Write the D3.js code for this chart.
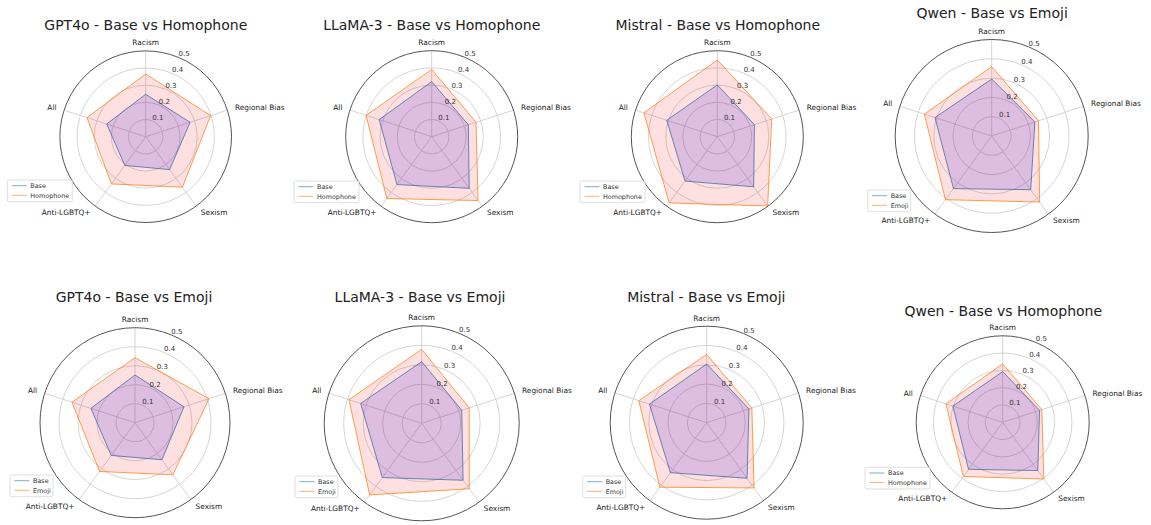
<!DOCTYPE html>
<html>
<head>
<meta charset="utf-8">
<script src="https://cdn.jsdelivr.net/npm/d3@7"></script>
<style>
  html, body { margin: 0; padding: 0; background: #fff; }
  svg { display: block; font-family: "DejaVu Sans", sans-serif; }
</style>
</head>
<body>
<svg id="chart" width="1151" height="525"></svg>
<script>
// ---- data ----
const categories = ["Racism", "Regional Bias", "Sexism", "Anti-LGBTQ+", "All"];
const models = ["GPT4o", "LLaMA-3", "Mistral", "Qwen", "GPT4o", "LLaMA-3", "Mistral", "Qwen"];
const variants = ["Homophone", "Homophone", "Homophone", "Emoji", "Emoji", "Emoji", "Emoji", "Homophone"];
const baseValues = [
  [0.247, 0.272, 0.237, 0.207, 0.239],
  [0.320, 0.224, 0.371, 0.344, 0.321],
  [0.301, 0.227, 0.360, 0.319, 0.309],
  [0.295, 0.235, 0.344, 0.337, 0.309],
  [0.251, 0.271, 0.241, 0.213, 0.244],
  [0.316, 0.216, 0.361, 0.344, 0.329],
  [0.304, 0.230, 0.356, 0.320, 0.312],
  [0.293, 0.224, 0.345, 0.336, 0.303]
];
const variantValues = [
  [0.365, 0.398, 0.364, 0.340, 0.360],
  [0.391, 0.271, 0.459, 0.444, 0.401],
  [0.446, 0.333, 0.498, 0.476, 0.449],
  [0.359, 0.255, 0.423, 0.408, 0.367],
  [0.342, 0.410, 0.339, 0.317, 0.349],
  [0.379, 0.256, 0.415, 0.454, 0.392],
  [0.354, 0.246, 0.418, 0.413, 0.370],
  [0.337, 0.238, 0.405, 0.387, 0.345]
];
const radialTicks = [0.1, 0.2, 0.3, 0.4, 0.5];
const rMax = 0.5;

// ---- layout (positions only) ----
const layout = [
  {cx: 145.7, cy: 136.7, r: 85.8, tx: 145.8, ty: 25.0, lx: 7.3,   ly: 180.0},
  {cx: 431.7, cy: 136.7, r: 86.0, tx: 431.7, ty: 25.0, lx: 294.0, ly: 181.0},
  {cx: 717.3, cy: 136.7, r: 86.0, tx: 717.8, ty: 25.0, lx: 580.0, ly: 181.0},
  {cx: 991.7, cy: 136.0, r: 96.5, tx: 992.2, ty: 12.7, lx: 867.7, ly: 190.0},
  {cx: 135.0, cy: 422.7, r: 95.0, tx: 134.0, ty: 296.7, lx: 10.0,  ly: 475.0},
  {cx: 421.7, cy: 423.3, r: 97.5, tx: 420.0, ty: 296.7, lx: 295.0, ly: 476.0},
  {cx: 706.7, cy: 422.7, r: 96.5, tx: 706.3, ty: 296.7, lx: 582.7, ly: 476.0},
  {cx: 1002.7, cy: 422.3, r: 86.5, tx: 1003.3, ty: 310.7, lx: 865.0, ly: 467.3}
];

const C0 = "#1f77b4", C1 = "#ff7f0e";
const svg = d3.select("#chart");
const n = categories.length;
const angle = d3.scaleLinear().domain([0, n]).range([0, 2 * Math.PI]);

layout.forEach((L, p) => {
  const g = svg.append("g").attr("transform", `translate(${L.cx},${L.cy})`);
  const rs = d3.scaleLinear().domain([0, rMax]).range([0, L.r]);

  // grid circles
  g.selectAll("circle.grid").data(radialTicks.filter(t => t < rMax)).join("circle")
    .attr("r", d => rs(d)).attr("fill", "none")
    .attr("stroke", "#d0d0d0").attr("stroke-width", 0.9);
  // spokes
  g.selectAll("line.spoke").data(categories).join("line")
    .attr("x1", 0).attr("y1", 0)
    .attr("x2", (d, i) => rs(rMax) * Math.sin(angle(i)))
    .attr("y2", (d, i) => -rs(rMax) * Math.cos(angle(i)))
    .attr("stroke", "#d0d0d0").attr("stroke-width", 0.9);
  // outer spine
  g.append("circle").attr("r", rs(rMax)).attr("fill", "none")
    .attr("stroke", "#555").attr("stroke-width", 1);

  const radial = d3.lineRadial()
    .angle((d, i) => angle(i))
    .radius(d => rs(d))
    .curve(d3.curveLinearClosed);

  // base
  g.append("path").attr("d", radial(baseValues[p]))
    .attr("fill", "blue").attr("fill-opacity", 0.15).attr("stroke", "none");
  g.append("path").attr("d", radial(baseValues[p]))
    .attr("fill", "none").attr("stroke", C0).attr("stroke-width", 1).attr("stroke-opacity", 0.75);
  // variant
  g.append("path").attr("d", radial(variantValues[p]))
    .attr("fill", "red").attr("fill-opacity", 0.12).attr("stroke", "none");
  g.append("path").attr("d", radial(variantValues[p]))
    .attr("fill", "none").attr("stroke", C1).attr("stroke-width", 1).attr("stroke-opacity", 0.75);

  // radial tick labels at 22.5 deg
  const ra = Math.PI / 8;
  g.selectAll("text.rtick").data(radialTicks).join("text")
    .attr("x", d => rs(d) * Math.sin(ra))
    .attr("y", d => -rs(d) * Math.cos(ra) - 1)
    .attr("text-anchor", "start")
    .attr("font-size", 7).attr("fill", "#333")
    .text(d => d3.format(".1f")(d));

  // category labels
  g.selectAll("text.cat").data(categories).join("text")
    .attr("x", (d, i) => (rs(rMax) + 8) * Math.sin(angle(i)))
    .attr("y", (d, i) => -(rs(rMax) + 8) * Math.cos(angle(i)))
    .attr("dy", "0.35em")
    .attr("text-anchor", (d, i) => {
      const s = Math.sin(angle(i));
      return s > 0.01 ? "start" : (s < -0.01 ? "end" : "middle");
    })
    .attr("font-size", 7.4).attr("fill", "#222")
    .text(d => d);

  // title
  svg.append("text").attr("x", L.tx).attr("y", L.ty).attr("dy", "0.35em")
    .attr("text-anchor", "middle").attr("font-size", 14).attr("fill", "#222")
    .text(`${models[p]} - Base vs ${variants[p]}`);

  // legend
  const lg = svg.append("g").attr("transform", `translate(${L.lx},${L.ly})`);
  const items = ["Base", variants[p]];
  const colors = [C0, C1];
  const lgW = variants[p] === "Homophone" ? 65 : 43;
  lg.append("rect").attr("width", lgW).attr("height", 21.7).attr("rx", 1.5)
    .attr("fill", "#fff").attr("fill-opacity", 0.8)
    .attr("stroke", "#d5d5d5").attr("stroke-width", 0.8);
  items.forEach((it, k) => {
    const yy = 5.7 + k * 9.6;
    lg.append("line").attr("x1", 4.4).attr("x2", 19.4).attr("y1", yy).attr("y2", yy)
      .attr("stroke", colors[k]).attr("stroke-width", 1).attr("stroke-opacity", 0.6);
    lg.append("text").attr("x", 23).attr("y", yy).attr("dy", "0.35em")
      .attr("font-size", 6.4).attr("fill", "#333").text(it);
  });
});
</script>
</body>
</html>
